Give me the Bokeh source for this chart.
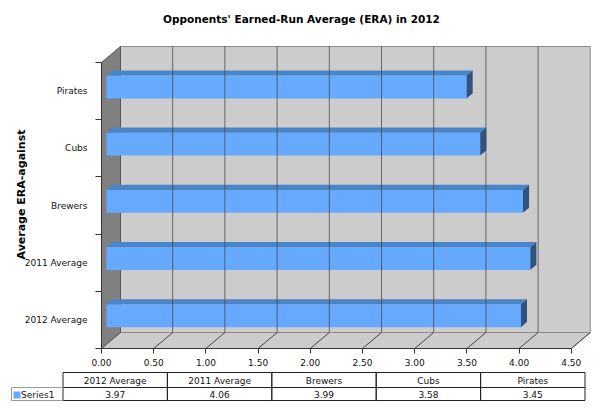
from math import pi
from bokeh.plotting import figure
from bokeh.models import Range1d, FixedTicker, Label, ColumnDataSource, NumeralTickFormatter
from bokeh.embed import file_html
from bokeh.resources import INLINE
from bokeh.core.properties import value

# ---------------- data ----------------
categories = ["2012 Average", "2011 Average", "Brewers", "Cubs", "Pirates"]
era = [3.97, 4.06, 3.99, 3.58, 3.45]
x_ticks = [0.0, 0.5, 1.0, 1.5, 2.0, 2.5, 3.0, 3.5, 4.0, 4.5]
series_name = "Series1"
title_text = "Opponents' Earned-Run Average (ERA) in 2012"
y_title = "Average ERA-against"

# ---------------- layout constants ----------------
FONT = "DejaVu Sans"
W, H = 592, 401
ORIGIN_X, ORIGIN_Y = 101, 348   # pixel position of value 0 / front floor edge
PX_X = 104.4          # pixels per ERA unit
PX_Y = 57.2           # pixels per category band
DX = 19 / PX_X        # depth offset (x) in data units
DY = 16 / PX_Y        # depth offset (y) in data units
X_MAX = x_ticks[-1]
N = len(categories)
Y0, Y1 = -0.5, N - 0.5
F0, F1 = 0.26, 0.58   # bar front / back depth fractions
BH = 0.40             # bar thickness (band units)


def xd(px):  # figure pixel x -> data
    return (px - ORIGIN_X) / PX_X


def yd(py):  # figure pixel y (from top) -> data
    return Y0 + (ORIGIN_Y - py) / PX_Y


FRONT = "#66AAFF"
TOP = "#4A85C7"
END = "#2F5480"
WALL = "#CCCCCC"
SIDE = "#808080"
GRID = "#444444"

p = figure(width=W, height=H, output_backend="svg", toolbar_location=None,
           title=None, min_border=0,
           x_range=Range1d(xd(0), xd(W)), y_range=Range1d(yd(H), yd(0)))
p.outline_line_color = None
p.grid.visible = False
p.background_fill_color = "white"
p.border_fill_color = "white"

# back wall
p.quad(left=[DX], right=[X_MAX + DX], bottom=[Y0 + DY], top=[Y1 + DY],
       fill_color=WALL, line_color="#8C8C8C", line_width=1)
# floor
p.patch([0, X_MAX, X_MAX + DX, DX], [Y0, Y0, Y0 + DY, Y0 + DY],
        fill_color=WALL, line_color="#8C8C8C", line_width=1)
# left side wall
p.patch([0, DX, DX, 0], [Y1, Y1 + DY, Y0 + DY, Y0],
        fill_color=SIDE, line_color="#555555", line_width=1)

# bars
fx0, fx1 = F0 * DX, F1 * DX
fy0, fy1 = F0 * DY, F1 * DY
ys = list(range(N))
bar_src = ColumnDataSource(dict(
    left=[fx0] * N, right=[v + fx0 for v in era],
    bottom=[y - BH / 2 + fy0 for y in ys], top=[y + BH / 2 + fy0 for y in ys]))
p.quad(left="left", right="right", bottom="bottom", top="top", source=bar_src,
       fill_color=FRONT, line_color=None)
top_xs = [[fx0, v + fx0, v + fx1, fx1] for v in era]
top_ys = [[y + BH / 2 + fy0, y + BH / 2 + fy0, y + BH / 2 + fy1, y + BH / 2 + fy1] for y in ys]
p.patches(top_xs, top_ys, fill_color=TOP, line_color=None)
end_xs = [[v + fx0, v + fx0, v + fx1, v + fx1] for v in era]
end_ys = [[y - BH / 2 + fy0, y + BH / 2 + fy0, y + BH / 2 + fy1, y - BH / 2 + fy1] for y in ys]
p.patches(end_xs, end_ys, fill_color=END, line_color=None)

# grid lines on back wall and floor
gx = x_ticks[1:-1]
p.segment(x0=[t + DX for t in gx], y0=[Y0 + DY] * len(gx),
          x1=[t + DX for t in gx], y1=[Y1 + DY] * len(gx),
          line_color=GRID, line_alpha=0.75, line_width=1)
fl = x_ticks[1:]
p.segment(x0=fl, y0=[Y0] * len(fl), x1=[t + DX for t in fl], y1=[Y0 + DY] * len(fl),
          line_color=GRID, line_width=1)

# axes (drawn at the front edges of the 3-D box)
xa = p.xaxis[0]
xa.fixed_location = Y0
xa.bounds = (x_ticks[0], X_MAX)
xa.ticker = FixedTicker(ticks=x_ticks, minor_ticks=[])
xa.formatter = NumeralTickFormatter(format="0.00")
xa.major_tick_out = 5
xa.major_tick_in = 0
xa.axis_line_color = "#333333"
xa.major_tick_line_color = "#333333"
xa.major_label_text_font = FONT
xa.major_label_text_font_size = "9px"
xa.major_label_text_color = "#111111"
xa.major_label_standoff = 5

ya = p.yaxis[0]
ya.fixed_location = 0
ya.bounds = (Y0, Y1)
ya.ticker = FixedTicker(ticks=ys, minor_ticks=[y - 0.5 for y in range(N + 1)])
ya.major_label_overrides = {y: c for y, c in zip(ys, categories)}
ya.major_tick_out = 0
ya.major_tick_in = 0
ya.minor_tick_out = 6
ya.minor_tick_in = 0
ya.minor_tick_line_color = "#333333"
ya.axis_line_color = "#333333"
ya.major_label_text_font = FONT
ya.major_label_text_font_size = "9px"
ya.major_label_text_color = "#111111"
ya.major_label_standoff = 8

p.add_layout(Label(x=xd(21), y=yd(194), text=y_title, angle=pi / 2,
                   text_align="center", text_baseline="middle", text_font=FONT,
                   text_font_style="bold", text_font_size="11px", text_color="black"))
p.add_layout(Label(x=xd(301), y=yd(18), text=title_text,
                   text_align="center", text_baseline="middle", text_font=FONT,
                   text_font_style="bold", text_font_size="10.5px", text_color="black"))

# ---------------- data table ----------------
T0 = xd(62.5)                      # left edge of first table column
ROW_TOP, ROW_MID, ROW_BOT = yd(372), yd(387), yd(400)
lefts = [T0 + k for k in range(N)]
rights = [T0 + k + 1 for k in range(N)]
centers = [T0 + k + 0.5 for k in range(N)]
p.quad(left=lefts, right=rights, top=[ROW_TOP] * N, bottom=[ROW_MID] * N,
       fill_color=None, line_color="#222222", line_width=1)
p.quad(left=lefts, right=rights, top=[ROW_MID] * N, bottom=[ROW_BOT] * N,
       fill_color=None, line_color="#222222", line_width=1)
p.quad(left=[xd(11)], right=[T0], top=[ROW_MID], bottom=[ROW_BOT],
       fill_color=None, line_color="#9A9A9A", line_width=1)
p.quad(left=[xd(13)], right=[xd(20)], top=[yd(391)], bottom=[yd(398)],
       fill_color=FRONT, line_color=None)
p.text(x=centers, y=[yd(380)] * N, text=categories, text_align="center", text_baseline="middle",
       text_font=value(FONT), text_font_size="9px", text_color="#111111")
p.text(x=centers, y=[yd(393.5)] * N, text=["%.2f" % v for v in era], text_align="center",
       text_baseline="middle", text_font=value(FONT), text_font_size="9px", text_color="#111111")
p.text(x=[xd(20.5)], y=[yd(394.5)], text=[series_name], text_align="left",
       text_baseline="middle", text_font=value(FONT), text_font_size="9px", text_color="#111111")

open("out.html", "w").write(file_html(p, INLINE))
